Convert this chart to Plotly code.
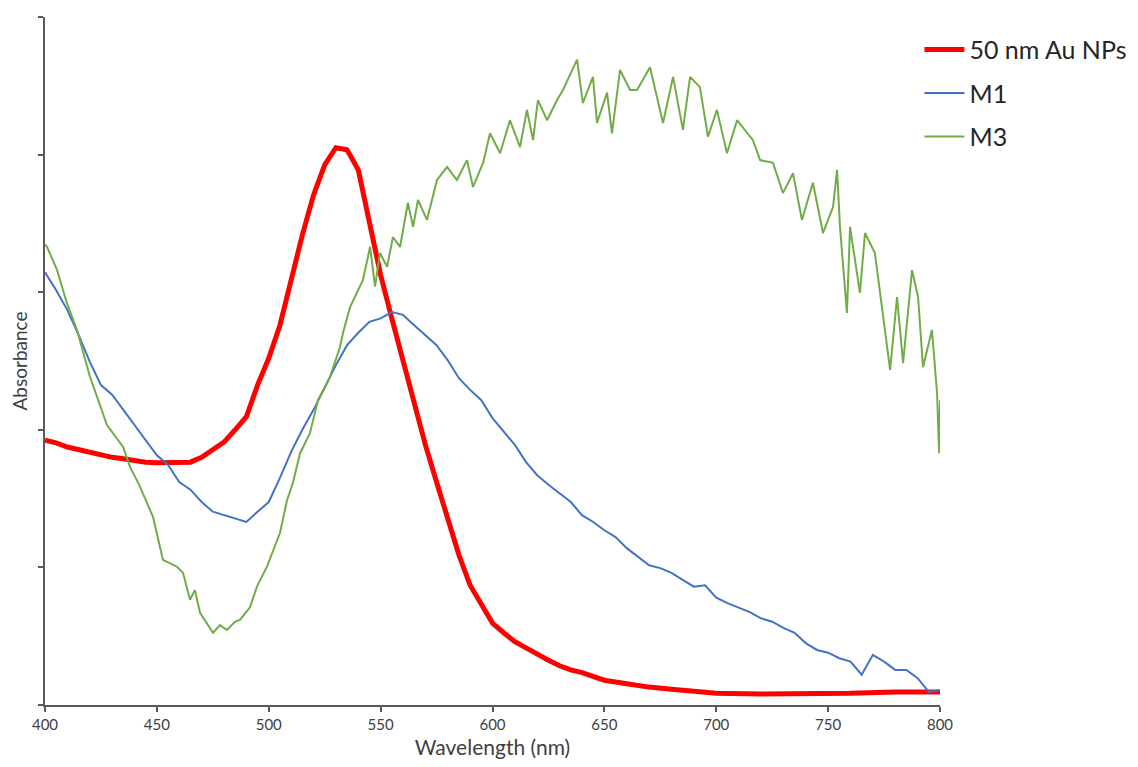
import plotly.graph_objects as go

# ---- data ----
red_x = [400, 405, 410, 415, 420, 425, 430, 435, 440, 445, 450, 455, 460, 465, 470, 475, 480, 485, 490, 495,
         500, 505, 510, 515, 520, 525, 530, 535, 540, 545, 550, 555, 560, 565, 570, 575, 580, 585, 590, 595,
         600, 605, 610, 615, 620, 625, 630, 635, 640, 645, 650, 660, 670, 680, 690, 700, 720, 740, 760, 780, 800]
red_y = [0.385, 0.381, 0.375, 0.371, 0.368, 0.363, 0.360, 0.358, 0.355, 0.353, 0.352, 0.352, 0.352, 0.353, 0.360,
         0.371, 0.382, 0.400, 0.419, 0.465, 0.504, 0.552, 0.618, 0.683, 0.741, 0.785, 0.810, 0.807, 0.778, 0.705,
         0.625, 0.562, 0.499, 0.436, 0.378, 0.324, 0.269, 0.218, 0.174, 0.148, 0.119, 0.105, 0.092, 0.083, 0.073,
         0.065, 0.057, 0.051, 0.047, 0.041, 0.036, 0.031, 0.026, 0.023, 0.020, 0.017, 0.016, 0.016, 0.017, 0.019, 0.019]

blue_x = list(range(400, 805, 5))
blue_y = [0.629, 0.603, 0.574, 0.538, 0.499, 0.465, 0.451, 0.429, 0.407, 0.385, 0.363, 0.349, 0.324, 0.313, 0.295,
          0.281, 0.276, 0.272, 0.266, 0.281, 0.295, 0.330, 0.368, 0.400, 0.429, 0.461, 0.494, 0.523, 0.541, 0.557,
          0.562, 0.571, 0.567, 0.552, 0.538, 0.523, 0.501, 0.475, 0.458, 0.443, 0.417, 0.397, 0.378, 0.353, 0.334,
          0.320, 0.308, 0.295, 0.276, 0.266, 0.254, 0.244, 0.228, 0.215, 0.203, 0.199, 0.192, 0.182, 0.172, 0.174,
          0.156, 0.148, 0.142, 0.135, 0.126, 0.121, 0.112, 0.105, 0.090, 0.080, 0.076, 0.068, 0.063, 0.044, 0.073,
          0.063, 0.051, 0.051, 0.039, 0.019, 0.022]

green_x = [400.0, 400.9, 405.4, 409.8, 414.3, 420.1, 427.7, 434.9, 438.0, 442.5, 448.3, 452.7, 459.0, 461.7, 464.8,
           467.0, 469.3, 475.1, 478.2, 481.3, 484.9, 487.2, 491.6, 494.7, 499.2, 501.9, 505.0, 508.2, 510.8, 514.0,
           518.4, 522.0, 527.4, 531.8, 533.2, 536.3, 539.4, 542.1, 545.3, 547.5, 549.7, 552.9, 555.5, 558.7, 562.2,
           564.5, 566.7, 570.7, 575.2, 579.7, 584.1, 588.6, 591.3, 595.8, 598.9, 603.4, 607.8, 612.3, 615.4, 618.1,
           620.3, 624.4, 628.8, 631.5, 637.8, 640.4, 644.9, 646.7, 651.2, 653.4, 657.0, 661.5, 664.6, 670.4, 676.2,
           680.7, 685.1, 688.3, 692.7, 696.3, 700.3, 704.8, 709.3, 716.4, 719.6, 725.4, 729.8, 734.3, 738.3, 743.2,
           747.7, 752.2, 754.0, 755.3, 758.4, 759.8, 764.2, 766.5, 770.9, 774.5, 777.7, 780.8, 783.5, 787.5, 790.2,
           792.4, 796.4, 798.7, 799.6, 800.0]
green_y = [0.669, 0.666, 0.632, 0.584, 0.545, 0.477, 0.407, 0.375, 0.346, 0.317, 0.273, 0.211, 0.201, 0.192, 0.153,
           0.167, 0.134, 0.105, 0.116, 0.109, 0.121, 0.124, 0.142, 0.172, 0.201, 0.225, 0.250, 0.298, 0.323, 0.366,
           0.395, 0.443, 0.477, 0.520, 0.541, 0.578, 0.599, 0.618, 0.666, 0.608, 0.657, 0.637, 0.680, 0.666, 0.730,
           0.695, 0.734, 0.705, 0.763, 0.782, 0.763, 0.792, 0.753, 0.788, 0.831, 0.802, 0.850, 0.811, 0.865, 0.821,
           0.879, 0.850, 0.879, 0.894, 0.938, 0.875, 0.913, 0.846, 0.890, 0.831, 0.923, 0.894, 0.894, 0.927, 0.846,
           0.913, 0.836, 0.913, 0.898, 0.826, 0.865, 0.802, 0.850, 0.821, 0.792, 0.788, 0.744, 0.773, 0.705, 0.759,
           0.686, 0.724, 0.778, 0.695, 0.570, 0.695, 0.599, 0.686, 0.657, 0.570, 0.487, 0.593, 0.497, 0.632, 0.593,
           0.491, 0.545, 0.453, 0.366, 0.443]

series_names = ["50 nm Au NPs", "M1", "M3"]
x_ticks = [400, 450, 500, 550, 600, 650, 700, 750, 800]
y_ticks = [0, 0.2, 0.4, 0.6, 0.8, 1.0]

FONT = "Lato, 'Open Sans', sans-serif"
AXIS_COLOR = "#595959"

fig = go.Figure()
fig.add_trace(go.Scatter(x=red_x, y=red_y, mode="lines", name=series_names[0],
                         line=dict(color="#FF0000", width=5), legendgroup="a"))
fig.add_trace(go.Scatter(x=blue_x, y=blue_y, mode="lines", name=series_names[1],
                         line=dict(color="#4472C4", width=2), legendgroup="b"))
fig.add_trace(go.Scatter(x=green_x, y=green_y, mode="lines", name=series_names[2],
                         line=dict(color="#70AD47", width=2), legendgroup="c"))

fig.update_layout(
    width=1122, height=751,
    margin=dict(l=37, r=190, t=9, b=54, autoexpand=False),
    paper_bgcolor="white", plot_bgcolor="white",
    font=dict(family=FONT, color="#404040"),
    showlegend=True,
    legend=dict(x=0.977, xanchor="left", xref="paper", y=0.986, yanchor="top",
                yref="paper", font=dict(size=25, color="#262626"),
                tracegroupgap=8, bgcolor="rgba(0,0,0,0)", itemwidth=40),
    xaxis=dict(range=[400, 800], tickvals=x_ticks, ticktext=[str(v) for v in x_ticks],
               showgrid=False, zeroline=False, showline=True, linecolor=AXIS_COLOR, linewidth=1.5,
               ticks="outside", ticklen=5, tickcolor=AXIS_COLOR, tickwidth=1.5,
               tickfont=dict(size=15, color="#404040"),
               title=dict(text="Wavelength (nm)", font=dict(size=21, color="#404040"), standoff=14)),
    yaxis=dict(range=[0, 1.0], tickvals=y_ticks, showticklabels=False,
               showgrid=False, zeroline=False, showline=True, linecolor=AXIS_COLOR, linewidth=1.5,
               ticks="outside", ticklen=5, tickcolor=AXIS_COLOR, tickwidth=1.5,
               title=dict(text="Absorbance", font=dict(size=19, color="#404040"), standoff=8)),
)

fig.write_html("out.html")
